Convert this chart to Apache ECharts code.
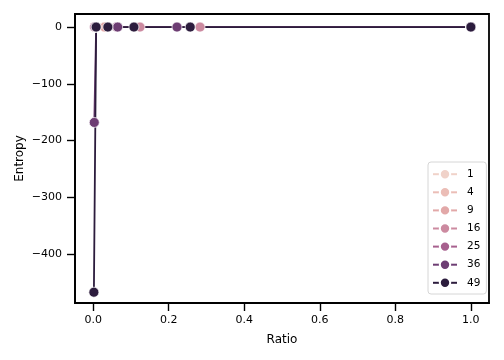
<!DOCTYPE html>
<html><head><meta charset="utf-8">
<script src="https://cdn.jsdelivr.net/npm/echarts@6/dist/echarts.min.js"></script>
<style>html,body{margin:0;padding:0;background:#fff}#c{width:504px;height:360px}</style>
</head><body><div id="c"></div>
<script>
const hues = ['1','4','9','16','25','36','49'];
const colors = ['#f0d2c9','#ebbdb6','#e2a8a8','#cc8aa0','#a7608e','#6d3d73','#2c1c3d'];
const ratio1 = [0.004, 1.0];
const entropy1 = [0, 0];
const ratio4 = [0.004, 0.03, 1.0];
const entropy4 = [0, 0, 0];
const ratio9 = [0.004, 0.03, 1.0];
const entropy9 = [0, 0, 0];
const ratio16 = [0.004, 0.124, 0.283, 1.0];
const entropy16 = [0, 0, 0, 0];
const ratio25 = [0.004, 0.062, 1.0];
const entropy25 = [0, 0, 0];
const ratio36 = [0.003, 0.008, 0.065, 0.222, 1.0];
const entropy36 = [-168, 0, 0, 0, 0];
const ratio49 = [0.002, 0.008, 0.039, 0.108, 0.257, 1.0];
const entropy49 = [-467, 0, 0, 0, 0, 0];
const xTicks = [0, 0.2, 0.4, 0.6, 0.8, 1.0];
const yTicks = [-400, -300, -200, -100, 0];

const ratios = [ratio1, ratio4, ratio9, ratio16, ratio25, ratio36, ratio49];
const entropies = [entropy1, entropy4, entropy9, entropy16, entropy25, entropy36, entropy49];

const series = hues.map((h, i) => ({
  name: h,
  type: 'line',
  data: ratios[i].map((x, j) => [x, entropies[i][j]]),
  symbol: 'circle',
  symbolSize: 10,
  showSymbol: true,
  lineStyle: {color: colors[i], width: 1.8},
  itemStyle: {color: colors[i], borderColor: '#fff', borderWidth: 0.7},
  emphasis: {disabled: true},
  animation: false
}));

const font = 'DejaVu Sans';
const chart = echarts.init(document.getElementById('c'), null, {renderer: 'canvas'});
chart.setOption({
  animation: false,
  backgroundColor: '#fff',
  grid: {left: 75, right: 15, top: 14, bottom: 57, show: true, borderColor: '#000', borderWidth: 1.8, backgroundColor: 'transparent'},
  xAxis: {
    type: 'value', min: -0.048, max: 1.048,
    name: 'Ratio', nameLocation: 'middle', nameGap: 31,
    nameTextStyle: {fontFamily: font, fontSize: 12, color: '#000'},
    axisLine: {show: true, onZero: false, lineStyle: {color: '#000', width: 1.8}},
    splitLine: {show: false},
    axisTick: {show: true, inside: false, length: 8, lineStyle: {color: '#000', width: 1.4}, customValues: xTicks},
    axisLabel: {customValues: xTicks, fontFamily: font, fontSize: 11, color: '#000', margin: 12,
      formatter: v => v.toFixed(1)}
  },
  yAxis: {
    type: 'value', min: -486, max: 23,
    name: 'Entropy', nameLocation: 'middle', nameGap: 49, nameRotate: 90, nameMoveOverlap: false,
    nameTextStyle: {fontFamily: font, fontSize: 12, color: '#000'},
    axisLine: {show: true, onZero: false, lineStyle: {color: '#000', width: 1.8}},
    splitLine: {show: false},
    axisTick: {show: true, inside: false, length: 8, lineStyle: {color: '#000', width: 1.4}, customValues: yTicks},
    axisLabel: {customValues: yTicks, fontFamily: font, fontSize: 11, color: '#000', margin: 13,
      formatter: v => v < 0 ? '\u2212' + Math.abs(v) : String(v)}
  },
  legend: {
    data: hues,
    orient: 'vertical',
    left: 428, top: 162,
    padding: [6, 6, 5, 4],
    itemWidth: 24, itemHeight: 13, itemGap: 5.7,
    backgroundColor: '#fff',
    borderColor: '#d6d6d6', borderWidth: 1, borderRadius: 3,
    textStyle: {fontFamily: font, fontSize: 10.5, color: '#000', padding: [0, 0, 0, 5]}
  },
  series: series
});
</script></body></html>
